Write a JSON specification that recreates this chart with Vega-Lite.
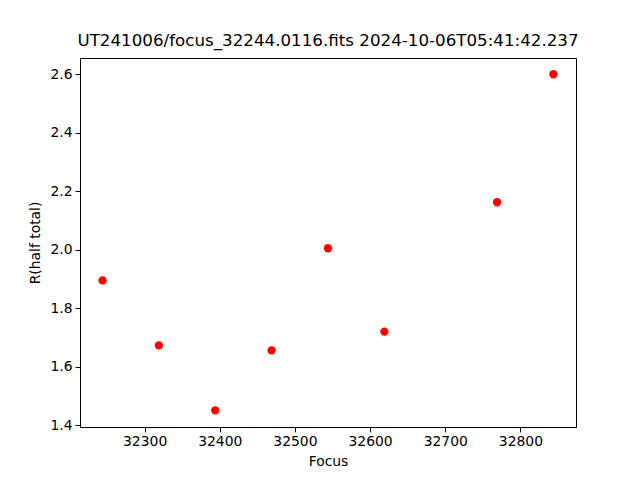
{
  "$schema": "https://vega.github.io/schema/vega-lite/v6.json",
  "width": 496,
  "height": 369,
  "autosize": {"type": "none"},
  "padding": {"left": 80, "top": 58, "right": 64, "bottom": 53},
  "background": "white",
  "title": {
    "text": "UT241006/focus_32244.0116.fits 2024-10-06T05:41:42.237",
    "font": "DejaVu Sans",
    "fontSize": 16.7,
    "fontWeight": "normal",
    "color": "black",
    "anchor": "middle",
    "offset": 8
  },
  "config": {
    "view": {"stroke": "black", "strokeWidth": 1},
    "axis": {
      "labelFont": "DejaVu Sans",
      "titleFont": "DejaVu Sans",
      "labelFontSize": 13.9,
      "titleFontSize": 13.9,
      "titleFontWeight": "normal",
      "labelColor": "black",
      "titleColor": "black",
      "tickColor": "black",
      "domainColor": "black",
      "tickSize": 4.9,
      "labelPadding": 3,
      "grid": false
    }
  },
  "data": {
    "values": [
      {"focus": 32244, "r": 1.895},
      {"focus": 32319, "r": 1.673},
      {"focus": 32394, "r": 1.451},
      {"focus": 32469, "r": 1.656},
      {"focus": 32544, "r": 2.005},
      {"focus": 32619, "r": 1.720},
      {"focus": 32769, "r": 2.162},
      {"focus": 32844, "r": 2.599}
    ]
  },
  "mark": {"type": "circle", "color": "red", "opacity": 1, "size": 70},
  "encoding": {
    "x": {
      "field": "focus",
      "type": "quantitative",
      "title": "Focus",
      "scale": {"domain": [32214, 32874], "nice": false, "zero": false},
      "axis": {"values": [32300, 32400, 32500, 32600, 32700, 32800], "format": "d", "titlePadding": 6}
    },
    "y": {
      "field": "r",
      "type": "quantitative",
      "title": "R(half total)",
      "scale": {"domain": [1.3942, 2.6547], "nice": false, "zero": false},
      "axis": {"values": [1.4, 1.6, 1.8, 2.0, 2.2, 2.4, 2.6], "format": ".1f", "titlePadding": 8}
    }
  }
}
